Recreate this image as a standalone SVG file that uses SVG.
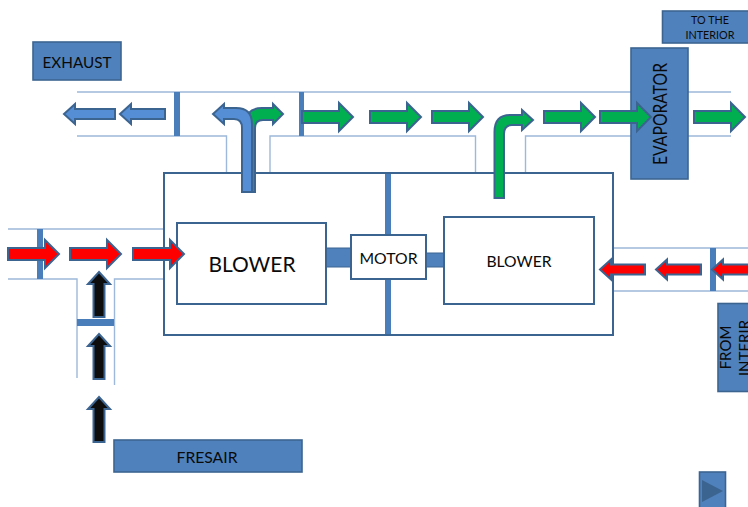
<svg xmlns="http://www.w3.org/2000/svg" width="748" height="507" viewBox="0 0 748 507">
<style>
text{font-family:Lato,"Liberation Sans",sans-serif;fill:#0a0a0a;text-anchor:middle}
.box{fill:#4f81bd;stroke:#3c6491;stroke-width:1.6}
.white{fill:#fff;stroke:#3c6491;stroke-width:2}
.duct{fill:none;stroke:#9db8da;stroke-width:1.4}
.damper{fill:#4a7ebb}
.link{fill:#4f81bd;stroke:#3c6491;stroke-width:1}
.g{fill:#00b050;stroke:#3c6491;stroke-width:2}
.b{fill:#558ed5;stroke:#3c6491;stroke-width:2}
.r{fill:#ff0000;stroke:#3c6491;stroke-width:2}
.k{fill:#0d0d0d;stroke:#3c6491;stroke-width:2}
</style>
<defs>
<path id="ar" d="M0-6H37V-14L51 0 37 14V6H0Z"/>
<path id="al" d="M0 0L11-10V-5H45V5H11V10Z"/>
<path id="au" d="M0 0L11 12H5.500V45H-5.500V12H-11Z"/>
</defs>
<g id="ducts" class="duct">
<path d="M77 92H631M688 92H731"/>
<path d="M77 136H226.500V173M270 173V136H475.500V173M525.500 173V136H631M688 136H731"/>
<path d="M8 229H164M8 279H77V378M114.500 385V279H164"/>
<path d="M613 248H748M613 291H748"/>
</g>
<g id="dampers" class="damper">
<rect x="174" y="92" width="6" height="44"/>
<rect x="299" y="92" width="5" height="44"/>
<rect x="37" y="229" width="6" height="50"/>
<rect x="77" y="319" width="37" height="7"/>
<rect x="710" y="248" width="6" height="43"/>
</g>
<g id="main-housing">
<rect class="white" x="164" y="173" width="449" height="162"/>
<rect class="damper" x="385" y="174" width="6" height="62"/>
<rect class="damper" x="385" y="279" width="6" height="55"/>
</g>
<g id="shaft-left"><rect class="link" x="326" y="248" width="25" height="19"/></g>
<g id="shaft-right"><rect class="link" x="426" y="253" width="18" height="14"/></g>
<g id="blower-left"><rect class="white" x="177" y="223" width="149" height="81"/><text x="252" y="272" font-size="22" textLength="87" lengthAdjust="spacingAndGlyphs">BLOWER</text></g>
<g id="motor"><rect class="white" x="351" y="235" width="75" height="44"/><text x="388.500" y="264" font-size="16" textLength="58" lengthAdjust="spacingAndGlyphs">MOTOR</text></g>
<g id="blower-right"><rect class="white" x="444" y="217" width="150" height="87"/><text x="519" y="267" font-size="16" textLength="65" lengthAdjust="spacingAndGlyphs">BLOWER</text></g>
<g id="exhaust"><rect class="box" x="33" y="42" width="88" height="38"/><text x="77" y="68" font-size="16" textLength="69" lengthAdjust="spacingAndGlyphs">EXHAUST</text></g>
<g id="evaporator"><rect class="box" x="631" y="48" width="57" height="131"/></g>
<g id="to-interior"><rect class="box" x="662.500" y="11" width="90" height="32"/><text x="710" y="24" font-size="10.800">TO THE</text><text x="710" y="39" font-size="10.800">INTERIOR</text></g>
<g id="from-interior"><rect class="box" x="718" y="303.500" width="40" height="88"/><text transform="translate(731 347.500) rotate(-90)" font-size="15">FROM</text><text transform="translate(750 348) rotate(-90)" font-size="15">INTERIR</text></g>
<g id="fresair"><rect class="box" x="114" y="440" width="188" height="32"/><text x="207" y="463" font-size="16" textLength="61" lengthAdjust="spacingAndGlyphs">FRESAIR</text></g>
<g id="next-button"><rect class="box" x="699.500" y="472" width="26" height="40"/><path d="M702 480L723 491 702 502Z" fill="#3c6491"/></g>
<g id="connectors">
<path class="b" d="M64 114L75 104V109H115V119H75V124Z"/>
<use href="#al" class="b" x="120" y="114"/>
<path class="g" d="M245 192V122Q247 108 262 108H273V104L283 114 273 124V120H263Q255 120 255 128V192Z"/>
<path class="b" d="M242 192V128Q242 119 234 119H224V124L213 114 224 104V108H236Q252 108 252 124V192Z"/>
<use href="#ar" class="g" x="302" y="117"/>
<use href="#ar" class="g" x="370" y="117"/>
<use href="#ar" class="g" x="432" y="117"/>
<path class="g" d="M494.500 198V132Q494.500 115 510 115H522V110L533 120 522 130V125H512Q504 125 504 134V198Z"/>
<use href="#ar" class="g" x="544" y="117"/>
<use href="#ar" class="g" x="600" y="117"/>
<use href="#ar" class="g" x="694" y="117"/>
<use href="#ar" class="r" x="8" y="254"/>
<use href="#ar" class="r" x="70" y="254"/>
<use href="#ar" class="r" x="133" y="254"/>
<use href="#au" class="k" x="99" y="272"/>
<use href="#au" class="k" x="99" y="334"/>
<use href="#au" class="k" x="99" y="397"/>
<use href="#al" class="r" x="600" y="269.500"/>
<use href="#al" class="r" x="656" y="269.500"/>
<use href="#al" class="r" x="712" y="269.500"/>
</g>
<text id="evaporator-label" transform="translate(667 114) rotate(-90)" font-size="18.500" textLength="102" lengthAdjust="spacingAndGlyphs">EVAPORATOR</text>
</svg>
